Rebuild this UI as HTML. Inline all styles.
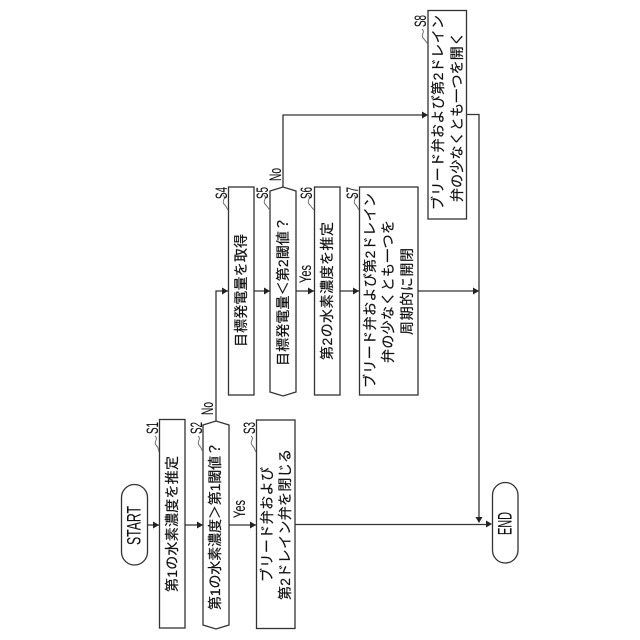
<!DOCTYPE html>
<html><head><meta charset="utf-8">
<style>
html,body{margin:0;padding:0;background:#fff;width:640px;height:640px;overflow:hidden}
svg{display:block}
text{font-family:"Liberation Sans","Noto Sans CJK JP",sans-serif;fill:#111;stroke:#111;stroke-width:.2;font-size:14px}
.b{fill:#fff;stroke:#333;stroke-width:1.3}
.l{fill:none;stroke:#333;stroke-width:1.3}
.q{fill:none;stroke:#666;stroke-width:.9}
.a{fill:#222;stroke:none}
.s{font-size:17px;stroke-width:.1}
.e{font-size:19px;stroke-width:.1}
</style></head><body>
<svg width="640" height="640" viewBox="0 0 640 640" xmlns="http://www.w3.org/2000/svg">
<!-- connectors -->
<path class="l" d="M147 525H159M185 525H203M229 525H256M295 524.500H490"/>
<path class="l" d="M216 421V291H228M254 291H270M296 291H314M340 291H359M418 291H479"/>
<path class="l" d="M283 187V115H428"/>
<path class="l" d="M466 114.500H479V522"/>
<!-- arrowheads -->
<path class="a" d="M159 525l-6-3.500v7z"/>
<path class="a" d="M203 525l-6-3.500v7z"/>
<path class="a" d="M256 525l-6-3.500v7z"/>
<path class="a" d="M228 291l-6-3.500v7z"/>
<path class="a" d="M270 291l-6-3.500v7z"/>
<path class="a" d="M314 291l-6-3.500v7z"/>
<path class="a" d="M359 291l-6-3.500v7z"/>
<path class="a" d="M428 115l-6-3.500v7z"/>
<path class="a" d="M479 291l-6-3.500v7z"/>
<path class="a" d="M479 523l-3.500-6h7z"/>
<path class="a" d="M492 524l-6-3.500v7z"/>
<!-- shapes -->
<rect class="b" x="121.500" y="484.500" width="26" height="80.500" rx="13"/>
<rect class="b" x="159.500" y="419.500" width="25.500" height="208.500"/>
<path class="b" d="M203 425L216 421L229 425V625L216 629L203 625Z"/>
<rect class="b" x="256.500" y="420" width="38.500" height="208.500"/>
<rect class="b" x="228.500" y="187" width="25.500" height="208"/>
<path class="b" d="M270 191L283 187L296 191V392L283 396L270 392Z"/>
<rect class="b" x="314.500" y="187" width="25.500" height="208"/>
<rect class="b" x="359.500" y="187" width="58.500" height="208"/>
<rect class="b" x="428" y="10.500" width="38.500" height="208.500"/>
<rect class="b" x="492.500" y="482.500" width="25.500" height="80.500" rx="12.700"/>
<!-- squiggles -->
<path class="q" d="M155 436c4 3-2 6 1 9s2 4 3 7"/>
<path class="q" d="M198 436c4 3-2 6 1 9s2 4 4 7"/>
<path class="q" d="M251 436c4 3-2 6 1 9s2 4 4 7"/>
<path class="q" d="M223 195c4 3-2 6 1 9s2 3 4 6"/>
<path class="q" d="M264 195c4 3-2 6 1 9s2 3 5 6"/>
<path class="q" d="M308 195c4 3-2 6 1 9s2 3 5 6"/>
<path class="q" d="M354 195c4 3-2 6 1 9s2 3 4 6"/>
<path class="q" d="M422 29c4 3-2 6 1 9s2 3 5 6"/>
<!-- labels -->
<text class="e" transform="translate(134,545) rotate(-90)" dy="6.500" textLength="39" lengthAdjust="spacingAndGlyphs">START</text>
<text class="e" transform="translate(505,535) rotate(-90)" dy="6.500" textLength="23" lengthAdjust="spacingAndGlyphs">END</text>
<text transform="translate(172,592) rotate(-90)" dy="5" textLength="136">第1の水素濃度を推定</text>
<text transform="translate(215,610) rotate(-90)" dy="5" textLength="168">第1の水素濃度＞第1閾値？</text>
<text transform="translate(267,582) rotate(-90)" dy="5" textLength="115">ブリード弁および</text>
<text transform="translate(285,600) rotate(-90)" dy="5" textLength="151">第2ドレイン弁を閉じる</text>
<text transform="translate(241,347) rotate(-90)" dy="5" textLength="113">目標発電量を取得</text>
<text transform="translate(283,366) rotate(-90)" dy="5" textLength="149">目標発電量＜第2閾値？</text>
<text transform="translate(327,360) rotate(-90)" dy="5" textLength="138">第2の水素濃度を推定</text>
<text transform="translate(370,388) rotate(-90)" dy="5" textLength="195">ブリード弁および第2ドレイン</text>
<text transform="translate(388,363) rotate(-90)" dy="5" textLength="143">弁の少なくとも一つを</text>
<text transform="translate(407,335) rotate(-90)" dy="5" textLength="87">周期的に開閉</text>
<text transform="translate(438,210) rotate(-90)" dy="5" textLength="195">ブリード弁および第2ドレイン</text>
<text transform="translate(457,202) rotate(-90)" dy="5" textLength="170">弁の少なくとも一つを開く</text>
<text class="s" transform="translate(152,434) rotate(-90)" dy="6" textLength="12" lengthAdjust="spacingAndGlyphs">S1</text>
<text class="s" transform="translate(196,434) rotate(-90)" dy="6" textLength="12" lengthAdjust="spacingAndGlyphs">S2</text>
<text class="s" transform="translate(249,434) rotate(-90)" dy="6" textLength="12" lengthAdjust="spacingAndGlyphs">S3</text>
<text class="s" transform="translate(221,199) rotate(-90)" dy="6" textLength="12" lengthAdjust="spacingAndGlyphs">S4</text>
<text class="s" transform="translate(262,199) rotate(-90)" dy="6" textLength="12" lengthAdjust="spacingAndGlyphs">S5</text>
<text class="s" transform="translate(306,199) rotate(-90)" dy="6" textLength="12" lengthAdjust="spacingAndGlyphs">S6</text>
<text class="s" transform="translate(352,199) rotate(-90)" dy="6" textLength="12" lengthAdjust="spacingAndGlyphs">S7</text>
<text class="s" transform="translate(420,27) rotate(-90)" dy="6" textLength="12" lengthAdjust="spacingAndGlyphs">S8</text>
<text class="s" transform="translate(207,415) rotate(-90)" dy="6" textLength="13" lengthAdjust="spacingAndGlyphs">No</text>
<text class="s" transform="translate(275,181) rotate(-90)" dy="6" textLength="13" lengthAdjust="spacingAndGlyphs">No</text>
<text class="s" transform="translate(239,518) rotate(-90)" dy="6" textLength="18" lengthAdjust="spacingAndGlyphs">Yes</text>
<text class="s" transform="translate(305,283) rotate(-90)" dy="6" textLength="18" lengthAdjust="spacingAndGlyphs">Yes</text>
</svg>
</body></html>
